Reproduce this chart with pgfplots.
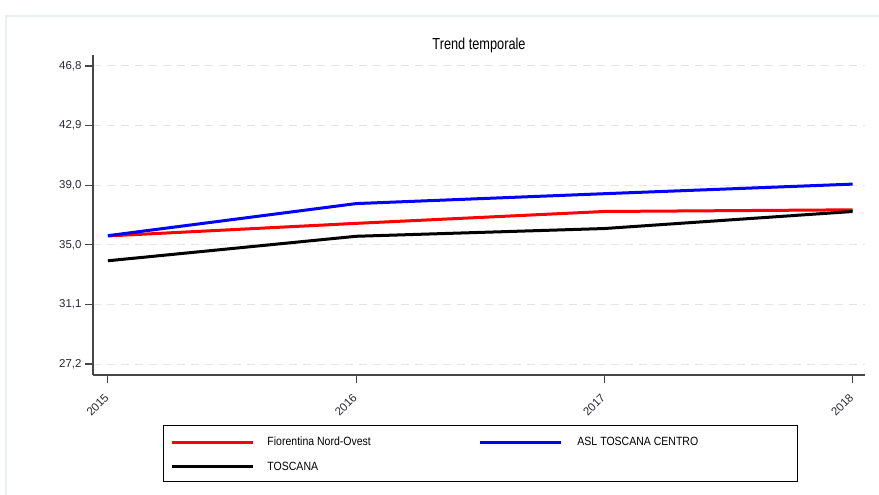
\documentclass[border=0pt]{standalone}
\usepackage{fontspec}
\setmainfont{Liberation Sans}
\newfontfamily\titlefont{Liberation Sans}[FakeStretch=0.8]
\newfontfamily\legfont{Liberation Sans}[FakeStretch=0.88]
\usepackage{pgfplots}
\pgfplotsset{compat=1.18}
\definecolor{axgray}{RGB}{70,70,70}
\definecolor{gridgray}{RGB}{228,228,228}
\definecolor{framec}{RGB}{234,240,238}
\definecolor{labc}{RGB}{40,40,50}
\begin{document}
\begin{tikzpicture}[x=1bp,y=1bp]
\useasboundingbox (0,0) rectangle (879,495);
\draw[color=framec, line width=1.5bp] (6,0) -- (6,479) -- (879,479);
\begin{axis}[
  at={(93bp,120bp)}, anchor=south west,
  scale only axis, width=772bp, height=320bp,
  xmin=2014.94, xmax=2018.05, ymin=26.48, ymax=47.52,
  axis lines*=left,
  axis line style={draw=axgray, line width=1.4bp},
  tick style={draw=axgray, line width=1.2bp},
  tick align=outside, major tick length=8bp,
  xtick={2015,2016,2017,2018},
  xticklabels={2015,2016,2017,2018},
  ytick={27.2,31.12,35.04,38.96,42.88,46.8},
  yticklabels={{27,2},{31,1},{35,0},{39,0},{42,9},{46,8}},
  /pgf/number format/assume math mode=true,
  ticklabel style={font=\fontsize{11.5}{13}\selectfont, text=labc},
  xticklabel style={rotate=45, anchor=north east, inner sep=1bp, xshift=-9bp, yshift=-3bp},
  ymajorgrids,
  grid style={draw=gridgray, line width=1bp, dash pattern=on 8bp off 6bp},
  title={Trend temporale},
  title style={font=\titlefont\fontsize{16}{18}\selectfont, at={(0.5,1)}, anchor=base, yshift=0bp, inner sep=0pt},
  legend columns=2,
  legend cell align=left,
  legend image code/.code={\draw[#1] (0bp,-1bp) -- (81bp,-1bp);},
  legend style={at={(0.09067,-0.334375)}, anchor=south west,
    draw=black, line width=0.9bp, inner xsep=7bp, inner ysep=10bp,
    font=\legfont\fontsize{12}{14}\selectfont,
    nodes={inner sep=0pt},
    column sep=0bp,
    /tikz/column 1/.style={column sep=13bp},
    /tikz/column 3/.style={column sep=15bp},
    row sep=13bp},
]
\addplot[color=red, line width=3bp] coordinates {(2015,35.62) (2016,36.45) (2017,37.23) (2018,37.34)};
\addlegendentry{\makebox[211bp][l]{Fiorentina Nord-Ovest\rule[-6bp]{0pt}{16bp}}}
\addplot[color=blue, line width=3bp] coordinates {(2015,35.64) (2016,37.75) (2017,38.40) (2018,39.03)};
\addlegendentry{\makebox[213bp][l]{ASL TOSCANA CENTRO\rule[-6bp]{0pt}{16bp}}}
\addplot[color=black, line width=3bp] coordinates {(2015,33.99) (2016,35.60) (2017,36.11) (2018,37.23)};
\addlegendentry{\makebox[211bp][l]{TOSCANA\rule[-17bp]{0pt}{27bp}}}
\end{axis}
\end{tikzpicture}
\end{document}
